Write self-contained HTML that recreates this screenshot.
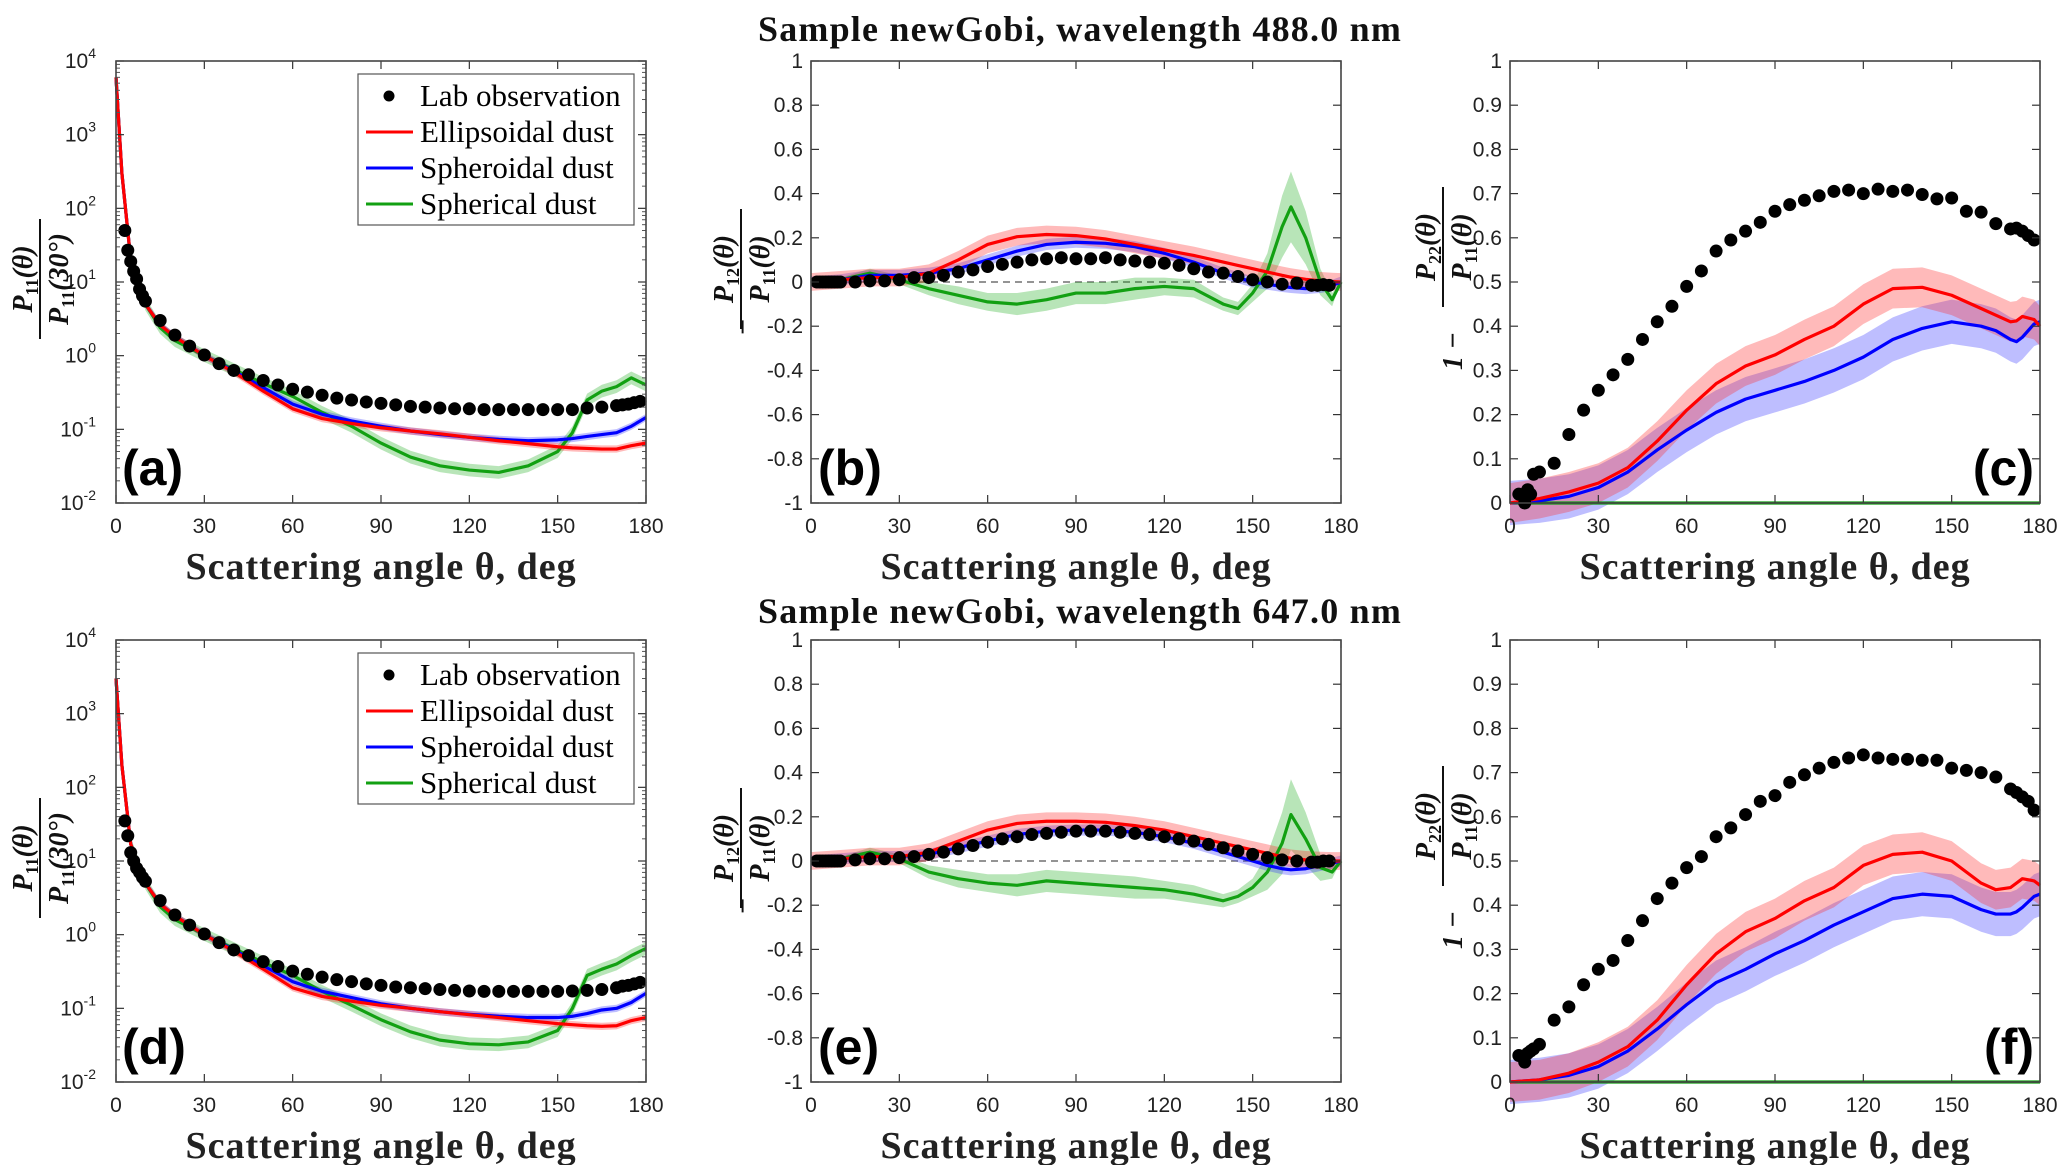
<!DOCTYPE html>
<html><head><meta charset="utf-8">
<style>
html,body{margin:0;padding:0;background:#fff;}
svg{display:block;}
.tk{font-family:"Liberation Sans",sans-serif;font-size:21px;fill:#222;}
.ttl{font-family:"Liberation Serif",serif;font-weight:bold;font-size:36px;letter-spacing:1.2px;fill:#111;}
.xl{font-family:"Liberation Serif",serif;font-weight:bold;font-size:38px;letter-spacing:1px;fill:#222;}
.pl{font-family:"Liberation Sans",sans-serif;font-weight:bold;font-size:50px;fill:#000;}
.lg{font-family:"Liberation Serif",serif;font-size:31px;fill:#000;}
.yl{font-family:"Liberation Serif",serif;font-weight:bold;font-style:italic;font-size:28px;fill:#111;}
</style></head>
<body>
<svg id="fig" width="2066" height="1165" viewBox="0 0 2066 1165" xmlns="http://www.w3.org/2000/svg">
<text class="ttl" x="1080" y="41" text-anchor="middle">Sample newGobi, wavelength 488.0 nm</text>
<text class="ttl" x="1080" y="623" text-anchor="middle">Sample newGobi, wavelength 647.0 nm</text>
</svg>
<script>
// ---------- Panel (a): P11 488nm ----------
const modelAngles = [0,2,5,10,15,20,30,40,50,60,70,80,90,100,110,120,130,140,150,155,160,165,170,175,180];
const aRed   = [6000,300,20,5,2.6,1.8,1,0.6,0.33,0.19,0.14,0.12,0.105,0.095,0.087,0.078,0.07,0.064,0.058,0.056,0.055,0.054,0.054,0.06,0.065];
const aBlue  = [6000,300,20,5,2.6,1.8,1,0.62,0.37,0.22,0.16,0.13,0.11,0.095,0.085,0.078,0.073,0.07,0.072,0.075,0.08,0.085,0.09,0.11,0.145];
const aGreen = [6000,300,20,5,2.4,1.6,1,0.65,0.42,0.28,0.17,0.11,0.065,0.042,0.032,0.028,0.026,0.032,0.05,0.09,0.25,0.33,0.38,0.5,0.4];
const aDotAngles = [3,4,5,6,7,8,9,10,15,20,25,30,35,40,45,50,55,60,65,70,75,80,85,90,95,100,105,110,115,120,125,130,135,140,145,150,155,160,165,170,172,174,176,178];
const aDots = [50,27,19,14,11,8,6.5,5.5,3,1.9,1.35,1.02,0.78,0.63,0.55,0.46,0.4,0.35,0.32,0.29,0.265,0.25,0.235,0.225,0.215,0.205,0.2,0.195,0.19,0.19,0.185,0.185,0.185,0.185,0.185,0.185,0.185,0.195,0.2,0.21,0.215,0.22,0.23,0.24];
// ---------- Panel (d): P11 647nm ----------
const dRed   = [3000,200,17,5,2.6,1.8,1,0.6,0.34,0.19,0.145,0.125,0.11,0.1,0.09,0.082,0.075,0.068,0.062,0.06,0.058,0.057,0.058,0.068,0.075];
const dBlue  = [3000,200,17,5,2.6,1.8,1,0.62,0.38,0.23,0.17,0.14,0.115,0.1,0.09,0.083,0.078,0.075,0.075,0.078,0.085,0.095,0.1,0.12,0.16];
const dGreen = [3000,200,17,5,2.4,1.6,1,0.65,0.42,0.28,0.17,0.11,0.07,0.048,0.037,0.033,0.032,0.035,0.05,0.1,0.28,0.34,0.4,0.52,0.65];
const dDots = [35,22,13,10,8,7,6,5.3,2.9,1.85,1.35,1.02,0.78,0.62,0.52,0.43,0.37,0.32,0.29,0.265,0.245,0.23,0.215,0.205,0.195,0.19,0.185,0.18,0.175,0.172,0.17,0.17,0.17,0.17,0.17,0.17,0.172,0.175,0.18,0.19,0.2,0.205,0.215,0.225];
// ---------- Panel (b) & (e): -P12/P11 ----------
const pAngles = [0,10,20,30,40,50,60,70,80,90,100,110,120,130,140,145,150,155,160,163,168,173,177,180];
const bRed   = [0,0.01,0.02,0.02,0.04,0.1,0.17,0.205,0.215,0.21,0.195,0.17,0.145,0.12,0.09,0.075,0.06,0.045,0.03,0.022,0.012,0.005,0.002,0];
const bBlue  = [0,0.01,0.03,0.03,0.04,0.06,0.1,0.14,0.17,0.18,0.175,0.16,0.13,0.09,0.04,0.02,0,-0.01,-0.02,-0.025,-0.03,-0.025,-0.015,0];
const bGreen = [0,0.01,0.04,0.01,-0.03,-0.06,-0.09,-0.1,-0.08,-0.05,-0.05,-0.03,-0.02,-0.03,-0.1,-0.12,-0.05,0.05,0.25,0.34,0.2,0,-0.08,0];
const eRed   = [0,0.01,0.02,0.02,0.04,0.09,0.14,0.17,0.18,0.18,0.175,0.16,0.14,0.11,0.08,0.065,0.05,0.035,0.02,0.012,0.005,0.002,0,0];
const eBlue  = [0,0.01,0.02,0.02,0.03,0.06,0.09,0.12,0.135,0.14,0.14,0.13,0.11,0.08,0.04,0.02,0,-0.02,-0.035,-0.04,-0.035,-0.02,-0.01,0];
const eGreen = [0,0.01,0.04,0.01,-0.05,-0.08,-0.1,-0.11,-0.09,-0.1,-0.11,-0.12,-0.13,-0.15,-0.18,-0.16,-0.12,-0.05,0.08,0.21,0.1,-0.03,-0.05,0];
const pDotAngles = [2,3,4,5,6,7,8,9,10,15,20,25,30,35,40,45,50,55,60,65,70,75,80,85,90,95,100,105,110,115,120,125,130,135,140,145,150,155,160,165,170,172,174,176];
const bDots = [0,0,0,0,0,0,0,0,0,0,0.005,0.005,0.01,0.02,0.02,0.03,0.045,0.055,0.07,0.08,0.09,0.1,0.105,0.11,0.105,0.105,0.11,0.1,0.095,0.09,0.085,0.075,0.06,0.045,0.04,0.025,0.01,0,-0.01,-0.005,-0.015,-0.015,-0.012,-0.015];
const eDots = [0,0,0,0,0,0,0,0,0,0.005,0.01,0.01,0.015,0.02,0.03,0.04,0.055,0.07,0.085,0.1,0.11,0.12,0.125,0.13,0.135,0.135,0.135,0.13,0.125,0.12,0.11,0.1,0.09,0.075,0.06,0.045,0.03,0.015,0.005,0,-0.005,-0.005,0,0];
// ---------- Panel (c) & (f): 1-P22/P11 ----------
const qAngles = [0,10,20,30,40,50,60,70,80,90,100,110,120,130,140,150,160,165,170,172,174,178,180];
const cRed   = [0,0.01,0.025,0.045,0.08,0.14,0.21,0.27,0.31,0.335,0.37,0.4,0.45,0.485,0.488,0.47,0.44,0.425,0.41,0.412,0.422,0.415,0.4];
const cBlue  = [0,0.005,0.015,0.035,0.07,0.12,0.165,0.205,0.235,0.255,0.275,0.3,0.33,0.37,0.395,0.41,0.4,0.39,0.37,0.365,0.375,0.405,0.41];
const cGreen = [0,0,0,0,0,0,0,0,0,0,0,0,0,0,0,0,0,0,0,0,0,0,0];
const fRed   = [0,0.005,0.02,0.045,0.08,0.14,0.22,0.29,0.34,0.37,0.41,0.44,0.49,0.515,0.52,0.5,0.45,0.435,0.44,0.45,0.46,0.455,0.445];
const fBlue  = [0,0.005,0.015,0.035,0.07,0.12,0.175,0.225,0.255,0.29,0.32,0.355,0.385,0.415,0.425,0.42,0.39,0.38,0.38,0.385,0.395,0.42,0.425];
const fGreen = cGreen;
const cDotAngles = [3,5,6,7,8,10,15,20,25,30,35,40,45,50,55,60,65,70,75,80,85,90,95,100,105,110,115,120,125,130,135,140,145,150,155,160,165,170,172,174,176,178];
const cDots = [0.02,0,0.03,0.02,0.065,0.07,0.09,0.155,0.21,0.255,0.29,0.325,0.37,0.41,0.445,0.49,0.525,0.57,0.595,0.615,0.635,0.66,0.675,0.685,0.695,0.705,0.708,0.7,0.71,0.705,0.708,0.698,0.688,0.69,0.66,0.658,0.632,0.62,0.622,0.615,0.605,0.595];
const fDots = [0.06,0.045,0.065,0.07,0.075,0.085,0.14,0.17,0.22,0.255,0.275,0.32,0.365,0.415,0.45,0.485,0.51,0.555,0.575,0.605,0.635,0.648,0.678,0.695,0.71,0.723,0.733,0.74,0.733,0.73,0.73,0.728,0.728,0.71,0.705,0.7,0.69,0.663,0.655,0.645,0.635,0.615];
// band half-widths (fraction for log panels, absolute otherwise)
const bandP11Red = 0.12, bandP11Blue = 0.12, bandP11Green = 0.22;
const bandP12Red = 0.04, bandP12Blue = 0.025;
const bandP12Green = [0,0.01,0.02,0.02,0.03,0.04,0.04,0.05,0.05,0.05,0.05,0.05,0.04,0.04,0.03,0.03,0.04,0.08,0.14,0.16,0.12,0.06,0.03,0];
const bandP22 = [0.045,0.05,0];
const xTicks = [0,30,60,90,120,150,180];
const logTicks = [-2,-1,0,1,2,3,4];
const p12Ticks = [-1,-0.8,-0.6,-0.4,-0.2,0,0.2,0.4,0.6,0.8,1];
const p22Ticks = [0,0.1,0.2,0.3,0.4,0.5,0.6,0.7,0.8,0.9,1];

const NS="http://www.w3.org/2000/svg";
const fig=document.getElementById('fig');
function mk(tag,attrs,parent){const e=document.createElementNS(NS,tag);for(const k in attrs)e.setAttribute(k,attrs[k]);(parent||fig).appendChild(e);return e;}
const W=530,H=442;
const COL={red:'#ff0000',blue:'#0000ff',green:'#12a012'};
const BAND={red:'rgba(255,40,40,0.32)',blue:'rgba(40,40,255,0.3)',green:'rgba(20,170,20,0.3)'};

function makePanel(name,x0,y0,type,ymin,ymax){
  const g=mk('g',{});
  
  
  const sx=v=>x0+v/180*W;
  const sy=type==='log'?(v=>y0+H-(Math.log10(v)-ymin)/(ymax-ymin)*H):(v=>y0+H-(v-ymin)/(ymax-ymin)*H);
  return {g,sx,sy,x0,y0,type};
}
function axes(P,yt){
  const {g,sx,sy,x0,y0,type}=P;
  const ax=mk('g',{},g);
  
  
  xTicks.forEach(t=>{
    const x=sx(t);
    mk('line',{x1:x,x2:x,y1:y0+H,y2:y0+H-8,stroke:'#333','stroke-width':1.2},ax);
    mk('line',{x1:x,x2:x,y1:y0,y2:y0+8,stroke:'#333','stroke-width':1.2},ax);
    const tl=mk('text',{x:x,y:y0+H+30,class:'tk','text-anchor':'middle'},ax);
    tl.textContent=t;
    
    
  });
  yt.forEach(t=>{
    const y=type==='log'?sy(Math.pow(10,t)):sy(t);
    mk('line',{x1:x0,x2:x0+8,y1:y,y2:y,stroke:'#333','stroke-width':1.2},ax);
    mk('line',{x1:x0+W,x2:x0+W-8,y1:y,y2:y,stroke:'#333','stroke-width':1.2},ax);
    const tl=mk('text',{x:x0-8,y:y+7,class:'tk','text-anchor':'end'},ax);
    
    
    if(type==='log'){
      tl.textContent='10';
      const s=mk('tspan',{dy:-10,'font-size':14},tl);s.textContent=t;
      tl.setAttribute('x',x0-20);
      if(t<4){for(let m=2;m<10;m++){const yy=sy(m*Math.pow(10,t));
        mk('line',{x1:x0,x2:x0+4,y1:yy,y2:yy,stroke:'#555','stroke-width':1},ax);
        mk('line',{x1:x0+W,x2:x0+W-4,y1:yy,y2:yy,stroke:'#555','stroke-width':1},ax);}}
    } else {
      tl.textContent=String(t);
    }
  });
  mk('rect',{x:x0,y:y0,width:W,height:H,fill:'none',stroke:'#444','stroke-width':1.6},ax);
  const xl=mk('text',{x:x0+W/2,y:y0+H+76,class:'xl','text-anchor':'middle'},g);
  xl.textContent='Scattering angle θ, deg';
  
  
}
function band(P,xs,ys,hw,color,nm){
  const {sx,sy,type}=P;
  const hwv=i=>Array.isArray(hw)?hw[i]:hw;
  let up=[],dn=[];
  xs.forEach((x,i)=>{
    const w=hwv(i);
    if(type==='log'){up.push(sx(x)+','+sy(ys[i]*(1+w)));dn.push(sx(x)+','+sy(ys[i]/(1+w)));}
    else{up.push(sx(x)+','+sy(ys[i]+w));dn.push(sx(x)+','+sy(ys[i]-w));}
  });
  const p=mk('polygon',{points:up.concat(dn.reverse()).join(' '),fill:BAND[color],stroke:'none'},P.g);
  
  
}
function line(P,xs,ys,color,nm){
  const pts=xs.map((x,i)=>P.sx(x)+','+P.sy(ys[i])).join(' ');
  const p=mk('polyline',{points:pts,fill:'none',stroke:COL[color],'stroke-width':3.2,'stroke-linejoin':'round'},P.g);
  
  
}
function dots(P,xs,ys){
  xs.forEach((x,i)=>{
    const c=mk('circle',{cx:P.sx(x),cy:P.sy(ys[i]),r:6.5,fill:'#000'},P.g);
    
    
  });
}
function panelLabel(P,txt,x,y,anchor){
  const t=mk('text',{x:x,y:y,class:'pl','text-anchor':anchor||'start'},P.g);
  t.textContent=txt;
  
  
}
function ylabel(P,num,den,cx,cy,prefix,px,py){
  const g=mk('g',{transform:`translate(${cx},${cy}) rotate(-90)`},P.g);
  
  
  const n=mk('text',{x:0,y:-8,class:'yl','text-anchor':'middle'},g);
  n.innerHTML='P<tspan font-size="18" dy="6" font-style="normal">'+num+'</tspan><tspan dy="-6">(θ)</tspan>';
  mk('line',{x1:-60,x2:60,y1:0,y2:0,stroke:'#111','stroke-width':2},g);
  const d=mk('text',{x:0,y:28,class:'yl','text-anchor':'middle'},g);
  d.innerHTML='P<tspan font-size="18" dy="6" font-style="normal">11</tspan><tspan dy="-6">'+den+'</tspan>';
  if(prefix){
    const pg=mk('g',{transform:`translate(${px},${py}) rotate(-90)`},P.g);
    const t=mk('text',{x:0,y:0,class:'yl','font-style':'normal','font-size':38,'text-anchor':'middle'},pg);
    t.textContent=prefix;
  }
}
function legend(P,x,y){
  const g=mk('g',{},P.g);
  
  
  mk('rect',{x:x,y:y,width:276,height:151,fill:'#fff',stroke:'#555','stroke-width':1.2},g);
  const items=[['Lab observation',null],['Ellipsoidal dust','red'],['Spheroidal dust','blue'],['Spherical dust','green']];
  items.forEach((it,i)=>{
    const yy=y+22+i*36;
    const e=mk('g',{},g);
    
    
    if(it[1])mk('line',{x1:x+8,x2:x+55,y1:yy,y2:yy,stroke:COL[it[1]],'stroke-width':3},e);
    else mk('circle',{cx:x+31,cy:yy,r:5.5,fill:'#000'},e);
    const t=mk('text',{x:x+62,y:yy+10,class:'lg'},e);t.textContent=it[0];
  });
}

function p11Panel(name,y0,red,blue,green,ddots,lab){
  const P=makePanel(name,116,y0,'log',-2,4);
  band(P,modelAngles,green,bandP11Green,'green','spherical-band');
  band(P,modelAngles,blue,bandP11Blue,'blue','spheroidal-band');
  band(P,modelAngles,red,bandP11Red,'red','ellipsoidal-band');
  line(P,modelAngles,green,'green','spherical-line');
  line(P,modelAngles,blue,'blue','spheroidal-line');
  line(P,modelAngles,red,'red','ellipsoidal-line');
  dots(P,aDotAngles,ddots);
  axes(P,logTicks);
  legend(P,358,y0+13);
  panelLabel(P,lab,122,y0+H-18);
  ylabel(P,'11','(30°)',40,y0+218);
}
function p12Panel(name,y0,red,blue,green,ddots,lab){
  const P=makePanel(name,811,y0,'lin',-1,1);
  mk('line',{x1:P.sx(0),x2:P.sx(180),y1:P.sy(0),y2:P.sy(0),stroke:'#555','stroke-width':1.3,'stroke-dasharray':'7,5'},P.g);
  band(P,pAngles,green,bandP12Green,'green','spherical-band');
  band(P,pAngles,blue,bandP12Blue,'blue','spheroidal-band');
  band(P,pAngles,red,bandP12Red,'red','ellipsoidal-band');
  line(P,pAngles,green,'green','spherical-line');
  line(P,pAngles,blue,'blue','spheroidal-line');
  line(P,pAngles,red,'red','ellipsoidal-line');
  dots(P,pDotAngles,ddots);
  axes(P,p12Ticks);
  panelLabel(P,lab,818,y0+H-18);
  ylabel(P,'12','(θ)',741,y0+208,'−',752,y0+266);
}
function p22Panel(name,y0,red,blue,green,ddots,lab){
  const P=makePanel(name,1510,y0,'lin',0,1);
  band(P,qAngles,blue,bandP22[1],'blue','spheroidal-band');
  band(P,qAngles,red,bandP22[0],'red','ellipsoidal-band');
  line(P,qAngles,green,'green','spherical-line');
  line(P,qAngles,blue,'blue','spheroidal-line');
  line(P,qAngles,red,'red','ellipsoidal-line');
  dots(P,cDotAngles,ddots);
  axes(P,p22Ticks);
  panelLabel(P,lab,2034,y0+H-18,'end');
  ylabel(P,'22','(θ)',1443,y0+186,'1 −',1462,y0+290);
}
p11Panel('panel-a',61,aRed,aBlue,aGreen,aDots,'(a)');
p12Panel('panel-b',61,bRed,bBlue,bGreen,bDots,'(b)');
p22Panel('panel-c',61,cRed,cBlue,cGreen,cDots,'(c)');
p11Panel('panel-d',640,dRed,dBlue,dGreen,dDots,'(d)');
p12Panel('panel-e',640,eRed,eBlue,eGreen,eDots,'(e)');
p22Panel('panel-f',640,fRed,fBlue,fGreen,fDots,'(f)');
</script>
</body></html>
